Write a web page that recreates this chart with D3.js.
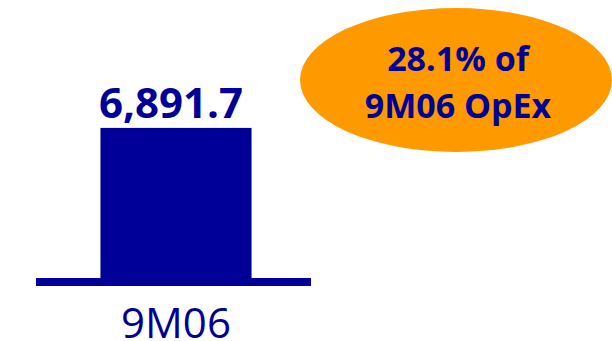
<!DOCTYPE html>
<html>
<head>
<meta charset="utf-8">
<script src="https://cdn.jsdelivr.net/npm/d3@7"></script>
<style>
  body { margin: 0; background: #fff; }
  svg { display: block; font-family: "Open Sans", sans-serif; }
</style>
</head>
<body>
<svg id="chart" width="612" height="341"></svg>
<script>
const categories = ["9M06"];
const values = [6891.7];
const calloutLines = ["28.1% of", "9M06 OpEx"];

const blue = "#000099";
const orange = "#ff9900";

const svg = d3.select("#chart");

const x = d3.scaleBand()
    .domain(categories)
    .range([40, 312])
    .paddingInner(0)
    .paddingOuter(0.4);

const y = d3.scaleLinear()
    .domain([0, 9000])
    .range([278, 82]);

// bars
svg.selectAll(".bar")
    .data(values)
    .enter()
    .append("rect")
    .attr("class", "bar")
    .attr("x", (d, i) => x(categories[i]))
    .attr("width", x.bandwidth())
    .attr("y", d => y(d))
    .attr("height", d => y(0) - y(d))
    .attr("fill", blue);

// baseline
svg.append("rect")
    .attr("x", 36)
    .attr("width", 275)
    .attr("y", y(0))
    .attr("height", 8)
    .attr("fill", blue);

// value labels
svg.selectAll(".val")
    .data(values)
    .enter()
    .append("text")
    .attr("class", "val")
    .attr("x", (d, i) => x(categories[i]) + x.bandwidth() / 2 - 5)
    .attr("y", d => y(d) - 10)
    .attr("text-anchor", "middle")
    .attr("font-size", 42)
    .attr("font-weight", "bold")
    .attr("fill", blue)
    .text(d => d3.format(",.1f")(d));

// category labels
svg.selectAll(".cat")
    .data(categories)
    .enter()
    .append("text")
    .attr("class", "cat")
    .attr("x", d => x(d) + x.bandwidth() / 2)
    .attr("y", 338)
    .attr("text-anchor", "middle")
    .attr("font-size", 42)
    .attr("fill", blue)
    .text(d => d);

// callout
const callout = svg.append("g").attr("transform", "translate(456, 80)");
callout.append("ellipse")
    .attr("rx", 156)
    .attr("ry", 72)
    .attr("fill", orange);
callout.selectAll("text")
    .data(calloutLines)
    .enter()
    .append("text")
    .attr("x", 2)
    .attr("y", (d, i) => -9 + i * 47)
    .attr("text-anchor", "middle")
    .attr("font-size", 34)
    .attr("font-weight", "bold")
    .attr("fill", blue)
    .text(d => d);
</script>
</body>
</html>
